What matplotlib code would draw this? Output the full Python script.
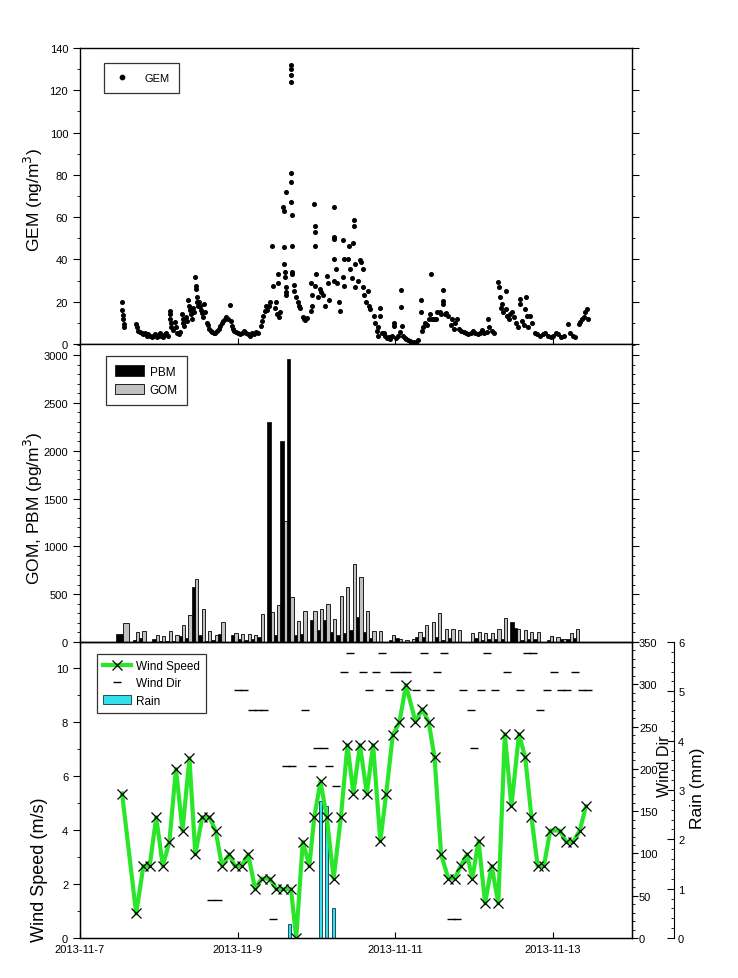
import numpy as np
import matplotlib
matplotlib.use("Agg")
import matplotlib.pyplot as plt
import matplotlib.dates as mdates
from matplotlib.lines import Line2D
from matplotlib.patches import Patch
from matplotlib.ticker import MultipleLocator, FixedLocator, FuncFormatter
from datetime import datetime

plt.rcParams['font.family'] = ['Liberation Sans', 'DejaVu Sans']

# ---------------- data (hours since 2013-11-07 00:00) ----------------
gem_hours = [12.8, 12.9, 13.0, 13.1, 13.3, 13.5,
             16.9, 17.3, 17.8,
             18.3, 18.8, 19.3, 19.8, 20.3, 20.8, 21.3, 21.8, 22.3, 22.8, 23.3, 23.8, 24.3, 24.8, 25.3, 25.8, 26.3, 26.8,
             27.3, 27.4, 27.5, 27.6, 27.8, 28.2,
             28.8, 29.2, 29.6, 30.0, 30.4,
             31.0, 31.3, 31.5, 31.8, 32.2, 32.5,
             32.8, 33.2, 33.5, 33.8, 34.1, 34.4, 34.6,
             35.0, 35.2, 35.3, 35.5, 35.7, 35.9,
             36.1, 36.4, 36.7, 37.0, 37.3, 37.6, 37.9,
             38.6, 39.0, 39.4, 39.8, 40.3, 40.8,
             41.2, 41.7, 42.2, 42.7,
             43.2, 43.6, 44.0, 44.5, 45.0, 45.7, 45.9, 46.3, 46.7,
             47.0, 47.6, 48.2, 48.8, 49.4, 50.0, 50.6, 51.2, 51.8, 52.4, 53.0, 53.6, 54.2,
             55.0, 55.4, 55.8, 56.2, 56.6,
             57.0, 57.4, 57.8, 58.4, 58.8, 59.2, 59.6, 60.0, 60.2, 60.4, 60.6, 61.0,
             61.8, 62.0, 62.0, 62.2, 62.3, 62.4, 62.6, 62.6, 62.6, 62.6,
             64.1, 64.15, 64.2, 64.25, 64.3, 64.3, 64.35, 64.4, 64.4, 64.5, 64.6,
             65.0, 65.1, 65.8, 66.2, 66.6, 67.0,
             68.0, 68.3, 68.6, 69.0,
             70.2, 70.2, 70.5, 70.7, 71.3, 71.5, 71.5, 71.6, 71.6, 71.8,
             72.5, 72.9, 73.4, 74.0, 74.5, 75.1, 75.6, 75.9,
             77.2, 77.2, 77.25, 77.3, 77.3,
             77.8, 78.3, 78.9, 79.2, 80.0, 80.0, 80.2, 80.5,
             81.6, 82.0, 82.1, 82.7, 83.2, 83.4, 83.4, 83.6, 83.8,
             84.5, 85.1, 85.4, 86.0, 86.0, 86.5, 87.0,
             87.6, 87.9, 88.3,
             89.4, 89.8, 90.3, 90.6, 90.8, 91.2, 91.4, 91.8,
             92.4, 92.9, 93.4, 93.9, 94.4, 94.9, 95.7, 95.7, 96.3, 96.9, 97.4, 97.7, 97.7, 97.9, 98.3,
             98.8, 99.3, 99.8, 100.3, 100.8, 101.3, 101.8, 102.3, 102.8,
             103.9, 103.9, 104.2, 104.4, 105.0, 105.5, 106.1,
             106.6, 106.8, 107.2, 107.7, 108.3, 108.8,
             109.5, 109.9, 110.4, 110.4, 110.4, 111.0, 111.5, 112.0,
             112.8, 113.2, 113.7, 114.2, 114.8,
             115.4, 116.1, 116.8, 117.5, 118.2, 118.9, 119.6, 120.3, 121.0, 121.7, 122.4, 123.1, 123.8, 124.1, 124.6, 125.3, 126.0,
             127.3, 127.5, 127.8, 128.0, 128.4, 128.8, 129.5, 129.5, 130.1, 130.6,
             131.0, 131.6, 132.2, 132.7, 133.3, 133.8, 133.8, 134.5, 135.0, 135.5, 135.8, 136.0, 136.5, 137.1, 137.6,
             138.4, 139.2, 140.0, 140.8, 141.6, 142.4, 143.2, 144.0, 144.8, 145.6, 146.4, 147.2, 148.5, 149.2, 150.0, 150.8,
             151.8, 152.3, 152.8, 153.3, 153.8, 154.2, 154.5]
gem_values = [20, 16, 13.5, 12, 9.5, 8,
              9.5, 8, 6,
              5.5, 5, 4.5, 5, 4, 4.5, 4, 3.5, 4, 4.5, 3.5, 4, 5, 4, 3.5, 4.5, 5, 4,
              15.5, 14, 12, 10, 8, 6.5,
              10.5, 8, 5, 4.5, 5.5,
              14, 12, 10, 8.5, 13, 11,
              21, 18, 16, 14, 12, 17, 15,
              31.5, 27.5, 26, 22, 20, 18,
              20, 18, 16, 14.5, 13, 19, 15,
              10, 9, 7, 6, 5.5, 5,
              5, 6, 7, 8.5,
              10, 11, 12, 13, 12, 18.4, 11, 8.5, 7,
              6, 5.5, 5, 4.5, 5, 6, 5, 4.5, 4, 5, 4.5, 5.5, 5,
              8.7, 11, 13.4, 15.5, 18,
              16, 18, 20, 46.5, 27.6, 17, 20, 14, 29, 33, 13, 15,
              65, 63, 46, 38, 34, 31.5, 72, 26.8, 24.4, 23,
              132, 130, 127, 124, 81, 76.5, 67, 61, 46.5, 34, 33,
              28, 25, 22, 20, 18, 17,
              13, 12, 11.5, 12.5,
              29, 15.8, 23, 18, 66, 56, 46.5, 53, 27.6, 33,
              22, 26, 24.4, 23, 18, 32, 29, 21,
              64.6, 50.5, 49.7, 40, 30,
              35.5, 29, 20, 15.8, 49, 31.5, 40, 27.6,
              40, 46.5, 35.5, 31, 48, 58.8, 55.7, 37.8, 26.8,
              30, 39.7, 38.6, 35.5, 27, 23, 19.7,
              25, 18, 16.5,
              13.4, 10, 6.3, 8, 4, 16.9, 13.4, 5,
              5, 4, 3, 3.5, 2.5, 4, 10, 8.7, 3, 4, 5.5, 25.7, 17.7, 8.7, 4,
              3, 2.5, 2, 1.5, 1, 0.5, 1, 0.5, 2,
              21, 15, 6, 8, 10, 9, 11.8,
              14, 33, 12, 11.8, 12, 15,
              15, 14, 25.4, 20.5, 19, 14, 14.5, 13.4,
              9, 11.8, 7, 10, 11.8,
              7, 6, 5.5, 5, 4.5, 5, 6, 5, 4.5, 5, 6.5, 5, 5.5, 11.8, 8, 6, 5,
              29.2, 26.8, 22, 17, 19, 15, 25, 16.5, 13.4, 11.8,
              14, 15, 12.6, 10, 8, 21.3, 19, 11, 9, 16.5, 22, 13.4, 8, 13.4, 10,
              5, 4.5, 4, 4.5, 5, 4, 3.5, 4, 5, 4.5, 3.5, 4, 9.5, 5, 4, 3.5,
              9.5, 10.5, 11.8, 13, 15, 16.5, 12]

# PBM/GOM sample pairs (hour at the boundary between PBM and GOM bars)
pair_hours = [13, 17, 19, 23, 25, 27, 29, 31, 33, 35, 37, 39, 41, 43,
              47, 49, 51, 53, 55, 58, 60, 62, 64, 66, 68,
              71, 73, 75, 77, 79, 81, 83, 85, 87, 89, 91,
              95, 97, 99, 101, 103, 105, 107, 109, 111, 113, 115,
              119, 121, 123, 125, 127, 129, 132, 133, 135, 137, 139,
              143, 145, 147, 149, 151]
pbm = [87, 21, 42, 35, 14, 10, 14, 63, 42, 570, 70, 10, 21, 84,
       75, 35, 21, 35, 52, 2300, 75, 2106, 2955, 73, 84,
       232, 130, 235, 102, 75, 98, 122, 260, 105, 38, 0,
       21, 42, 0, 0, 56, 56, 0, 49, 21, 42, 3,
       3, 42, 21, 35, 28, 28, 209, 146, 21, 28, 28,
       21, 3, 28, 28, 42]
gom = [200, 105, 115, 70, 63, 115, 70, 178, 285, 660, 345, 118, 72, 209,
       96, 84, 84, 72, 293, 312, 387, 1264, 470, 219, 326,
       326, 345, 392, 237, 485, 578, 815, 676, 324, 115, 115,
       73, 28, 21, 28, 105, 174, 209, 300, 132, 132, 125,
       90, 105, 90, 90, 132, 247, 0, 140, 124, 102, 105,
       63, 49, 28, 90, 132]

ws_hours = [12.8, 17.1, 19.3, 21.2, 23.2, 25.2, 27.2, 29.2, 31.2, 33.3, 35.1, 37.2, 39.4, 41.3,
            43.2, 45.4, 47.1, 49.2, 51.2, 53.3, 55.3, 57.7, 59.8, 61.8, 64.2, 65.8, 67.8, 69.8,
            71.3, 73.2, 75.1, 77.2, 79.4, 81.4, 83.2, 85.2, 87.3, 89.2, 91.4, 93.2, 95.2, 97.2,
            99.2, 102.1, 104.2, 106.1, 107.9, 109.9, 112.1, 114.0, 115.9, 117.8, 119.4, 121.3,
            123.3, 125.3, 127.3, 129.3, 131.3, 133.6, 135.5, 137.4, 139.3, 141.2, 143.1, 146.0,
            148.0, 150.1, 152.1, 154.0]
wind_speed = [5.35, 0.91, 2.67, 2.67, 4.47, 2.67, 3.56, 6.26, 3.98, 6.66, 3.10, 4.47, 4.47, 3.96,
              2.67, 3.10, 2.67, 2.67, 3.10, 1.81, 2.20, 2.20, 1.81, 1.81, 1.81, 0.0, 3.56, 2.67,
              4.47, 5.80, 4.47, 2.20, 4.47, 7.15, 5.35, 7.15, 5.35, 7.15, 3.59, 5.35, 7.52, 7.98,
              9.37, 8.01, 8.47, 8.01, 6.69, 3.10, 2.20, 2.20, 2.67, 3.10, 2.20, 3.59,
              1.29, 2.67, 1.29, 7.55, 4.88, 7.55, 6.69, 4.47, 2.67, 2.67, 3.98, 3.98,
              3.56, 3.56, 3.98, 4.88]

wd_hours = [82.1, 91.9, 104.8, 110.8, 123.8, 136.0, 138.0,
            80.2, 86.0, 90.0, 95.7, 97.7, 99.6, 108.5, 130.0, 144.2, 150.7,
            48.1, 49.8, 87.9, 94.1, 102.3, 106.6, 116.7, 122.1, 126.2, 134.0, 142.0, 146.3, 148.2, 152.9, 154.7,
            52.2, 54.1, 56.0, 68.5, 118.9, 140.1,
            72.1, 74.3, 120.0,
            62.6, 64.4, 70.5, 75.9,
            77.8,
            40.0, 41.9,
            58.8, 112.8, 114.8]
wind_dir = [337, 337, 337, 337, 337, 337, 337,
            315, 315, 315, 315, 315, 315, 315, 315, 315, 315,
            293, 293, 293, 293, 293, 293, 293, 293, 293, 293, 293, 293, 293, 293, 293,
            270, 270, 270, 270, 270, 270,
            225, 225, 225,
            203, 203, 203, 203,
            180,
            45, 45,
            22, 22, 22]

rain_hours = [63.8, 73.1, 75.1, 77.2]
rain_mm = [0.28, 2.77, 2.68, 0.60]

tick_dates = ['2013-11-07', '2013-11-09', '2013-11-11', '2013-11-13']
x_start, x_end = '2013-11-07', '2013-11-14'

# ---------------- helpers ----------------
base = mdates.date2num(datetime(2013, 11, 7))
H = 1.0 / 24.0


def tnum(hours):
    return base + np.asarray(hours, dtype=float) * H


def dfmt(x, pos=None):
    d = mdates.num2date(x)
    return f"{d.year}-{d.month}-{d.day}"


fig = plt.figure(figsize=(7.38, 9.79), dpi=100)
L, W = 80 / 738, 552 / 738
ax1 = fig.add_axes([L, 1 - 345 / 979, W, 296 / 979])
ax2 = fig.add_axes([L, 1 - 643 / 979, W, 298 / 979], sharex=ax1)
ax3 = fig.add_axes([L, 1 - 939 / 979, W, 296 / 979], sharex=ax1)

tfs = 8
for ax in (ax1, ax2, ax3):
    for s in ax.spines.values():
        s.set_linewidth(1.0)
    ax.tick_params(axis='y', which='both', direction='out', labelsize=tfs)
    ax.tick_params(axis='y', which='major', length=5)
    ax.tick_params(axis='y', which='minor', length=2.5)
    ax.tick_params(axis='x', which='major', direction='in', length=4, labelsize=tfs)

# ---------------- panel 1: GEM ----------------
ax1.plot(tnum(gem_hours), gem_values, 'o', color='black', markersize=2.6, label='GEM')
ax1.set_ylim(0, 140)
ax1.yaxis.set_major_locator(MultipleLocator(20))
ax1.yaxis.set_minor_locator(MultipleLocator(10))
ax1.tick_params(axis='y', which='both', right=True)
ax1.set_ylabel('GEM (ng/m$^3$)', fontsize=12.5)
ax1.yaxis.set_label_coords(-0.063, 0.49)
leg1 = ax1.legend(loc='upper left', bbox_to_anchor=(0.0435, 0.949), borderaxespad=0,
                  fancybox=False, edgecolor='black', fontsize=8, handletextpad=1.2,
                  borderpad=0.9, handlelength=1.5, markerscale=1.2)
leg1.get_frame().set_linewidth(0.9)
plt.setp(ax1.get_xticklabels(), visible=False)

# ---------------- panel 2: PBM / GOM ----------------
ph = np.asarray(pair_hours, dtype=float)
bw = np.where(np.arange(len(ph)) == 0, 2.0, 1.0)
ax2.bar(tnum(ph - bw / 2), pbm, width=bw * H, color='black', edgecolor='black', linewidth=0.5, label='PBM')
ax2.bar(tnum(ph + bw / 2), gom, width=bw * H, color='#c0c0c0', edgecolor='black', linewidth=0.6, label='GOM')
ax2.set_ylim(0, 3115)
ax2.yaxis.set_major_locator(MultipleLocator(500))
ax2.yaxis.set_minor_locator(MultipleLocator(100))
ax2.tick_params(axis='y', which='both', right=True)
ax2.set_ylabel('GOM, PBM (pg/m$^3$)', fontsize=12.5)
ax2.yaxis.set_label_coords(-0.063, 0.45)
leg2 = ax2.legend(loc='upper left', bbox_to_anchor=(0.047, 0.96), borderaxespad=0,
                  fancybox=False, edgecolor='black', fontsize=8.5, handletextpad=0.5,
                  borderpad=0.8, handlelength=2.4, handleheight=1.0, labelspacing=0.5)
leg2.get_frame().set_linewidth(0.9)
plt.setp(ax2.get_xticklabels(), visible=False)

# ---------------- panel 3: wind + rain ----------------
ax_rain = ax3.twinx()
ax_dir = ax3.twinx()
ax_rain.bar(tnum(rain_hours), rain_mm, width=H, color='#33e0ea', edgecolor='#205060', linewidth=0.7)
ax_rain.set_ylim(0, 6)
ax_rain.spines['right'].set_position(('axes', 1.076))
ax_rain.yaxis.set_major_locator(MultipleLocator(1))
ax_rain.yaxis.set_minor_locator(MultipleLocator(0.2))
ax_rain.tick_params(axis='y', which='both', direction='in', labelsize=tfs)
ax_rain.tick_params(axis='y', which='major', length=5, pad=3)
ax_rain.tick_params(axis='y', which='minor', length=2.5)
ax_rain.set_ylabel('Rain (mm)', fontsize=12.5)
ax_rain.yaxis.set_label_coords(1.105, 0.51)
for s in ('top', 'bottom', 'left'):
    ax_rain.spines[s].set_visible(False)

ax_dir.plot(tnum(wd_hours), wind_dir, linestyle='none', marker='_', color='black',
            markersize=5.5, markeredgewidth=1.0)
ax_dir.set_ylim(0, 350)
ax_dir.yaxis.set_major_locator(MultipleLocator(50))
ax_dir.yaxis.set_minor_locator(MultipleLocator(10))
ax_dir.tick_params(axis='y', which='both', direction='out', labelsize=tfs)
ax_dir.tick_params(axis='y', which='major', length=4, pad=1)
ax_dir.tick_params(axis='y', which='minor', length=2)
ax_dir.set_ylabel('Wind Dir', fontsize=11.5)
ax_dir.yaxis.set_label_coords(1.045, 0.585)

ax3.set_zorder(ax_dir.get_zorder() + 1)
ax3.patch.set_visible(False)
ax3.plot(tnum(ws_hours), wind_speed, '-', color='#2ae62a', linewidth=3.0, zorder=3)
ax3.plot(tnum(ws_hours), wind_speed, 'x', color='black', markersize=7, markeredgewidth=0.9, zorder=4)
ax3.set_ylim(0, 10.96)
ax3.yaxis.set_major_locator(MultipleLocator(2))
ax3.yaxis.set_minor_locator(MultipleLocator(1))
ax3.set_ylabel('Wind Speed (m/s)', fontsize=13)
ax3.yaxis.set_label_coords(-0.058, 0.235)

handles = [Line2D([], [], color='#2ae62a', linewidth=3.0, marker='x', markersize=7,
                  markeredgecolor='black', markeredgewidth=0.9),
           Line2D([], [], linestyle='none', marker='_', color='black', markersize=5.5, markeredgewidth=1.0),
           Patch(facecolor='#33e0ea', edgecolor='#205060', linewidth=0.7)]
leg3 = ax3.legend(handles, ['Wind Speed', 'Wind Dir', 'Rain'], loc='upper left',
                  bbox_to_anchor=(0.031, 0.959), borderaxespad=0, fancybox=False,
                  edgecolor='black', fontsize=8.5, handletextpad=0.4, borderpad=0.5,
                  handlelength=2.4, labelspacing=0.45)
leg3.get_frame().set_linewidth(0.9)

ax1.set_xlim(mdates.datestr2num(x_start), mdates.datestr2num(x_end))
ax3.xaxis.set_major_locator(FixedLocator(mdates.datestr2num(tick_dates)))
ax3.xaxis.set_major_formatter(FuncFormatter(dfmt))
ax3.tick_params(axis='x', which='major', pad=4)

fig.savefig('out.png', dpi=100)
